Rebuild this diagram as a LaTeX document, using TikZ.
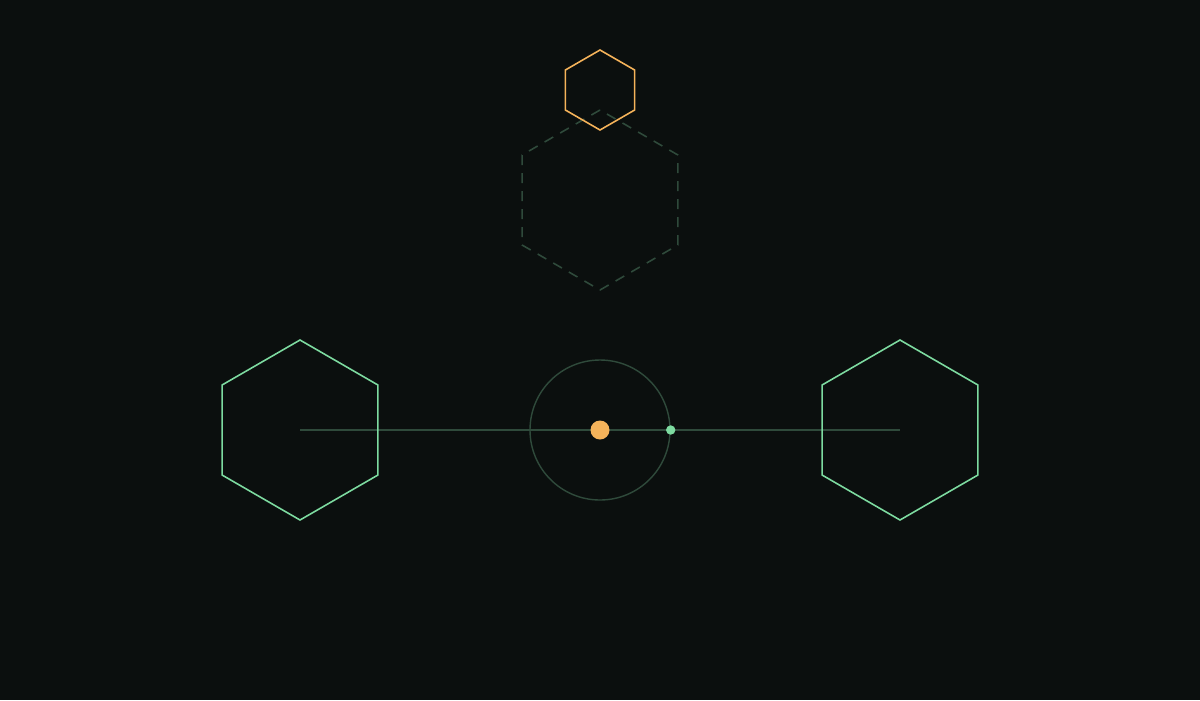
\documentclass[tikz,border=0pt]{standalone}
\usetikzlibrary{shapes.geometric}
\definecolor{bgdark}{HTML}{0B0F0E}
\definecolor{hexgreen}{HTML}{7DDBA0}
\definecolor{dimgreen}{HTML}{2F4A3B}
\definecolor{amber}{HTML}{F5B35A}
\tikzset{
    cellshape/.style={regular polygon, regular polygon sides=6, shape border rotate=30, inner sep=0pt, line width=0.45pt},
    hexcell/.style={cellshape, draw=hexgreen, minimum size=1.8cm},
    ghostcell/.style={cellshape, draw=dimgreen, dash pattern=on 1mm off 0.8mm, minimum size=1.8cm},
    tinycell/.style={cellshape, draw=amber, minimum size=0.8cm},
    orbit/.style={circle, inner sep=0pt, draw=dimgreen, line width=0.4pt, minimum size=1.4cm},
    axis/.style={dimgreen, line width=0.35pt}
}
\begin{document}
\begin{tikzpicture}
        \fill [bgdark] (0,0) rectangle (12,7);
        \useasboundingbox (0,0) rectangle (12,7);
        \coordinate (leftc) at (3,2.7);
        \coordinate (rightc) at (9,2.7);
        % axis behind the cells
        \draw 
            [axis] (leftc)--(rightc);
        \node [hexcell] (lefthex) at (leftc) {};
        \node [hexcell] (righthex) at (rightc) {};
        \node [ghostcell] (ghosthex) at (6,5.0) {};
        \node [tinycell] (tinyhex) at (6,6.1) {};
        \node [orbit] (ring) at (6,2.7) {};
        \fill 
            [amber] (ring.center) circle (0.095);
        \fill 
            [hexgreen] (ring.east) circle (0.047);
    \end{tikzpicture}
\end{document}
